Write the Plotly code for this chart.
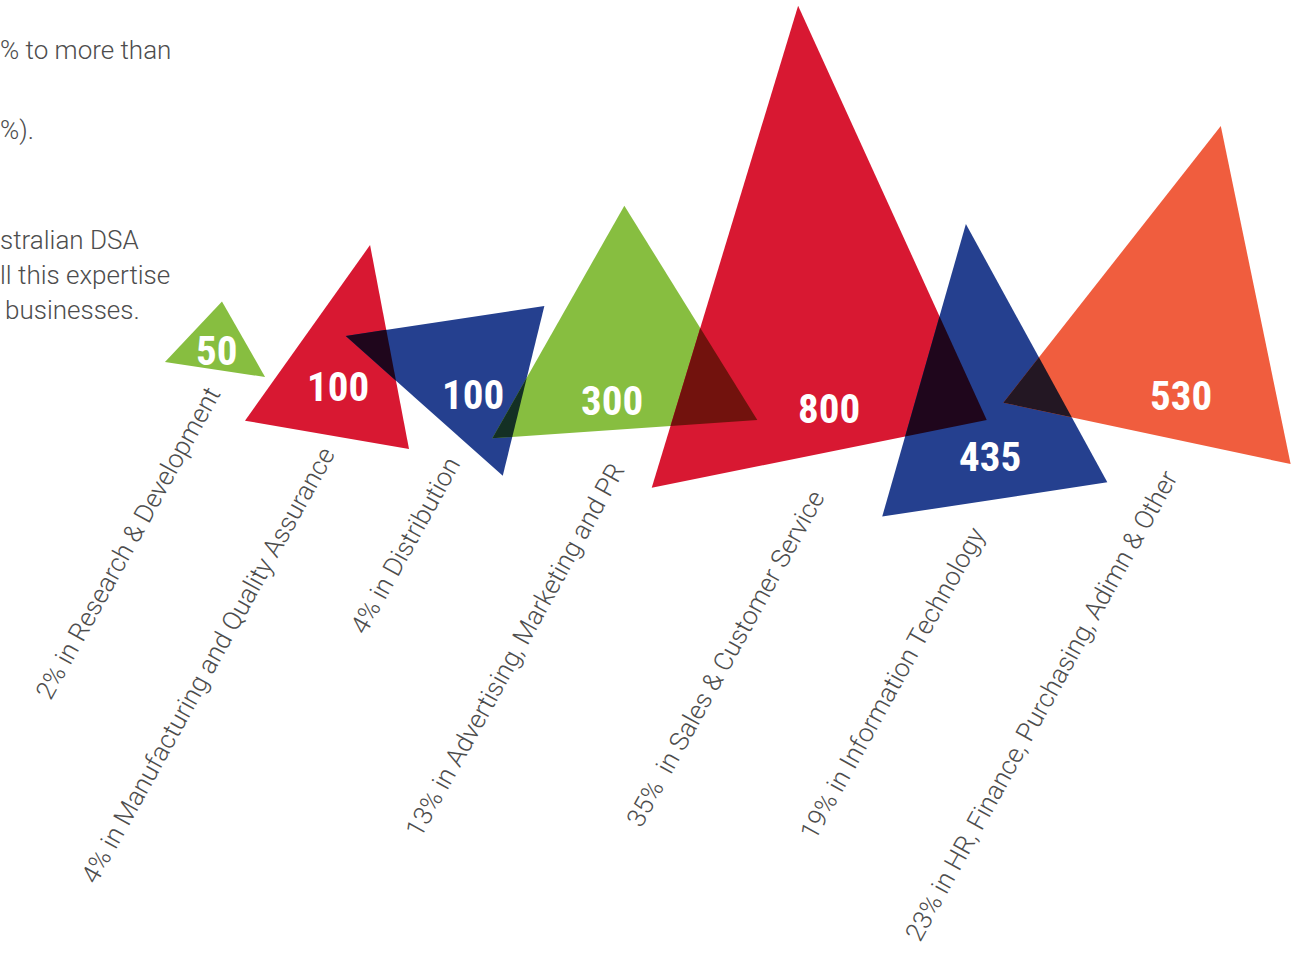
import math
import plotly.graph_objects as go

# ---- data -------------------------------------------------------------
categories = [
    "Research & Development",
    "Manufacturing and Quality Assurance",
    "Distribution",
    "Advertising, Marketing and PR",
    "Sales & Customer Service",
    "Information Technology",
    "HR, Finance, Purchasing, Adimn & Other",
]
headcount = [50, 100, 100, 300, 800, 435, 530]
share_pct = [2, 4, 4, 13, 35, 19, 23]
label_text = [
    "2% in Research & Development",
    "4% in Manufacturing and Quality Assurance",
    "4% in Distribution",
    "13% in Advertising, Marketing and PR",
    "35%  in Sales & Customer Service",
    "19% in Information Technology",
    "23% in HR, Finance, Purchasing, Adimn & Other",
]
intro_lines = ["% to more than", "%).", "stralian DSA", "ll this expertise", "businesses."]

# ---- styling / layout -------------------------------------------------
W, H = 1302, 959
GREEN, RED, BLUE, ORANGE = "#87be40", "#d81832", "#25408f", "#f05d3e"
colors = [GREEN, RED, BLUE, GREEN, RED, BLUE, ORANGE]

# each triangle: anchor (centroid) and three vertices as (direction deg, reach px)
anchors = [(217.3, 346.8), (341.3, 371.6), (464.2, 372.6), (624.6, 354.7),
           (812.2, 304.5), (985.2, 407.7), (1171.6, 330.9)]
spokes = [
    [(163.8, 54.5), (-84.1, 45.5), (32.3, 56.5)],
    [(153.0, 108.1), (-77.2, 129.8), (48.8, 102.8)],
    [(-162.8, 124.0), (-39.7, 104.2), (69.5, 110.1)],
    [(147.7, 156.5), (-90.1, 149.0), (26.2, 147.9)],
    [(131.2, 243.6), (-92.7, 299.1), (33.5, 209.3)],
    [(133.4, 149.9), (-96.0, 184.7), (31.4, 143.1)],
    [(156.9, 183.0), (-76.5, 210.7), (48.2, 178.6)],
]
value_pos = [(216, 351), (338, 387), (473, 395), (612, 401), (829, 409), (990, 457), (1181, 396)]
label_mid = [(128, 543), (208, 665), (405, 546), (515, 650), (725, 659), (892, 684), (1041, 706)]
intro_pos = [(0, 50), (0, 130), (0, 240), (0, 275), (5, 310)]

NUM_FONT = dict(family="Roboto Condensed, Open Sans Condensed, Roboto", size=41,
                color="white", weight="bold")
TXT_FONT = dict(family="Roboto, Lato, Liberation Sans", size=26, color="#4d4d4d", weight=300)


def triangle(anchor, spk):
    cx, cy = anchor
    return [(cx + r * math.cos(math.radians(a)), cy + r * math.sin(math.radians(a))) for a, r in spk]


def clip(subject, clipper):
    """Sutherland-Hodgman clipping of a polygon by a convex polygon."""
    def area2(p):
        return sum(p[i][0] * p[(i + 1) % len(p)][1] - p[(i + 1) % len(p)][0] * p[i][1] for i in range(len(p)))
    sgn = 1 if area2(clipper) > 0 else -1

    def inside(p, a, b):
        return sgn * ((b[0] - a[0]) * (p[1] - a[1]) - (b[1] - a[1]) * (p[0] - a[0])) >= 0

    def cross_pt(p, q, a, b):
        x1, y1 = p; x2, y2 = q; x3, y3 = a; x4, y4 = b
        d = (x1 - x2) * (y3 - y4) - (y1 - y2) * (x3 - x4)
        t = ((x1 - x3) * (y3 - y4) - (y1 - y3) * (x3 - x4)) / d
        return (x1 + t * (x2 - x1), y1 + t * (y2 - y1))

    out = list(subject)
    for i in range(len(clipper)):
        a, b = clipper[i], clipper[(i + 1) % len(clipper)]
        inp, out = out, []
        if not inp:
            break
        for j in range(len(inp)):
            p, q = inp[j - 1], inp[j]
            if inside(q, a, b):
                if not inside(p, a, b):
                    out.append(cross_pt(p, q, a, b))
                out.append(q)
            elif inside(p, a, b):
                out.append(cross_pt(p, q, a, b))
    if len(out) < 3 or abs(area2(out)) < 1:
        return []
    return out


def multiply(c1, c2):
    a = [int(c1[i:i + 2], 16) for i in (1, 3, 5)]
    b = [int(c2[i:i + 2], 16) for i in (1, 3, 5)]
    return "#%02x%02x%02x" % tuple(round(x * y / 255) for x, y in zip(a, b))


def poly_trace(pts, color):
    xs = [p[0] for p in pts] + [pts[0][0]]
    ys = [p[1] for p in pts] + [pts[0][1]]
    return go.Scatter(x=xs, y=ys, mode="lines", fill="toself", fillcolor=color,
                      line=dict(width=0, color=color), hoverinfo="skip", showlegend=False)


fig = go.Figure()
tris = [triangle(anchors[i], spokes[i]) for i in range(len(headcount))]
for pts, col in zip(tris, colors):
    fig.add_trace(poly_trace(pts, col))

# overlapping areas darken like ink printed on ink
for i in range(len(tris)):
    for j in range(i + 1, len(tris)):
        ov = clip(tris[i], tris[j])
        if ov:
            fig.add_trace(poly_trace(ov, multiply(colors[i], colors[j])))

ann = []
for v, (x, y) in zip(headcount, value_pos):
    ann.append(dict(x=x, y=y, text=str(v), showarrow=False, font=NUM_FONT,
                    xanchor="center", yanchor="middle"))
for t, (x, y) in zip(label_text, label_mid):
    ann.append(dict(x=x, y=y, text=t, showarrow=False, font=TXT_FONT, textangle=-61,
                    xanchor="center", yanchor="middle"))
for t, (x, y) in zip(intro_lines, intro_pos):
    ann.append(dict(x=x, y=y, text=t, showarrow=False, font=TXT_FONT,
                    xanchor="left", yanchor="middle", xshift=-2))

fig.update_layout(
    width=W, height=H, margin=dict(l=0, r=0, t=0, b=0),
    paper_bgcolor="white", plot_bgcolor="white",
    xaxis=dict(range=[0, W], visible=False, fixedrange=True),
    yaxis=dict(range=[H, 0], visible=False, fixedrange=True),
    annotations=ann,
)
fig.write_html("out.html")
